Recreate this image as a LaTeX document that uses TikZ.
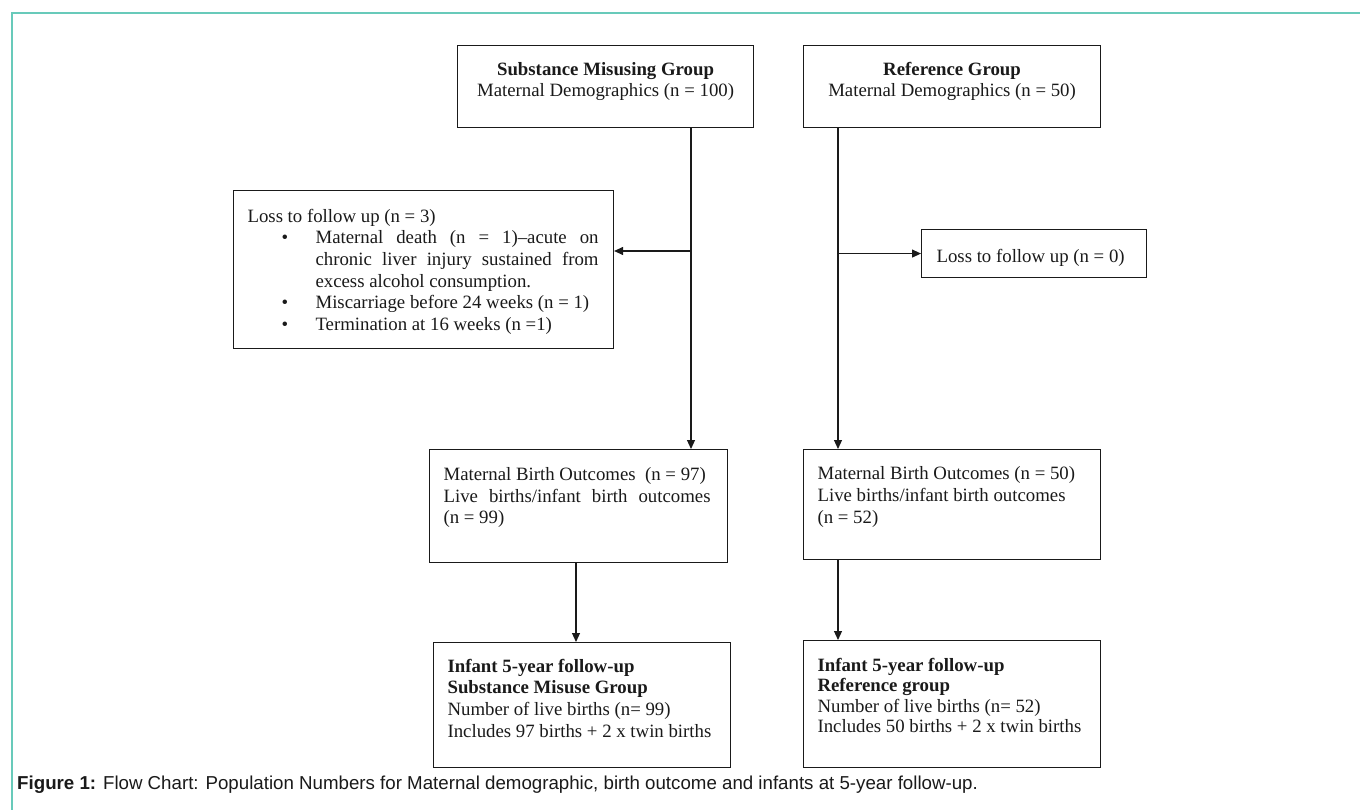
\documentclass[tikz,border=0pt]{standalone}
\usepackage{fontspec}
\setmainfont{Liberation Serif}
\newfontfamily\capfont{Liberation Sans}
\usetikzlibrary{arrows.meta}
\definecolor{framec}{RGB}{104,202,186}
\definecolor{inkc}{RGB}{26,26,26}
% #1 width, #2 height, #3 first baseline from top, #4 left pad, #5 content
\newcommand\boxtext[5]{\parbox[c][#2pt][t]{#1pt}{\lineskiplimit=-100pt\leftskip=#4pt\relax\rule{0pt}{#3pt}#5}}
\begin{document}
\begin{tikzpicture}[x=1pt,y=-1pt,
  every node/.style={font=\fontsize{18.8}{21.6}\selectfont, text=inkc},
  fbox/.style={draw=inkc, line width=1.1pt, inner sep=0pt, anchor=north west},
  conn/.style={draw=inkc, line width=1.1pt},
  arr/.style={conn, -{Triangle[length=9pt,width=8pt]}}]
\useasboundingbox (0,0) rectangle (1360,810);
\fill[white] (0,0) rectangle (1360,810);
\draw[framec, line width=2pt] (1362,13.5) -- (12,13.5) -- (12,812);

% top boxes
\node[fbox] (A) at (457,45) {\boxtext{296}{82}{29.5}{0}{\centering\textbf{Substance Misusing Group}\\Maternal Demographics (n = 100)}};
\node[fbox] (B) at (803,45) {\boxtext{297}{82}{29.5}{0}{\centering\textbf{Reference Group}\\Maternal Demographics (n = 50)}};

% loss boxes
\node[fbox] (L1) at (233,190) {\boxtext{380}{158}{31.7}{14}{Loss to follow up (n = 3)\\
\hspace*{34pt}\makebox[34pt][l]{\textbullet}\makebox[283pt][s]{Maternal death (n = 1)\textendash acute on}\\
\hspace*{68pt}\makebox[283pt][s]{chronic liver injury sustained from}\\
\hspace*{68pt}excess alcohol consumption.\\
\hspace*{34pt}\makebox[34pt][l]{\textbullet}Miscarriage before 24 weeks (n = 1)\\
\hspace*{34pt}\makebox[34pt][l]{\textbullet}Termination at 16 weeks (n =1)}};
\node[fbox] (L2) at (921,229) {\boxtext{225}{48}{32.7}{15}{Loss to follow up (n = 0)}};

% birth outcome boxes
\node[fbox] (C) at (429,449) {\boxtext{298}{113}{31}{14}{Maternal Birth Outcomes~ (n = 97)\\
\makebox[267pt][s]{Live births/infant birth outcomes}\\(n = 99)}};
\node[fbox] (D) at (803,449) {\boxtext{297}{110}{30.3}{14}{Maternal Birth Outcomes (n = 50)\\Live births/infant birth outcomes\\(n = 52)}};

% infant boxes
\node[fbox] (E) at (433,642) {\boxtext{297}{125}{29.7}{14}{\textbf{Infant 5-year follow-up}\\\textbf{Substance Misuse Group}\\Number of live births (n= 99)\\Includes 97 births + 2 x twin births}};
\node[fbox] (F) at (803,640) {\boxtext{297}{127}{31}{14}{\fontsize{18.8}{20.3}\selectfont\textbf{Infant 5-year follow-up}\\\textbf{Reference group}\\Number of live births (n= 52)\\Includes 50 births + 2 x twin births}};

% connector columns
\coordinate (pa) at (691,251);
\coordinate (pb) at (838,253);
\coordinate (pc) at (576,0);

\draw[arr] (A.south -| pa) -- (C.north -| pa);
\draw[arr] (pa) -- (L1.east |- pa);
\draw[arr] (B.south -| pb) -- (D.north -| pb);
\draw[arr] (pb |- L2.west) -- (L2.west);
\draw[arr] (C.south -| pc) -- (E.north -| pc);
\draw[arr] (D.south -| pb) -- (F.north -| pb);

% caption
\node[anchor=base west, inner sep=0pt, text=inkc, font=\capfont\fontsize{18.7}{22}\selectfont] (cap) at (17,789) {\textbf{Figure 1:} Flow Chart: Population Numbers for Maternal demographic, birth outcome and infants at 5-year follow-up.};
\end{tikzpicture}
\end{document}
